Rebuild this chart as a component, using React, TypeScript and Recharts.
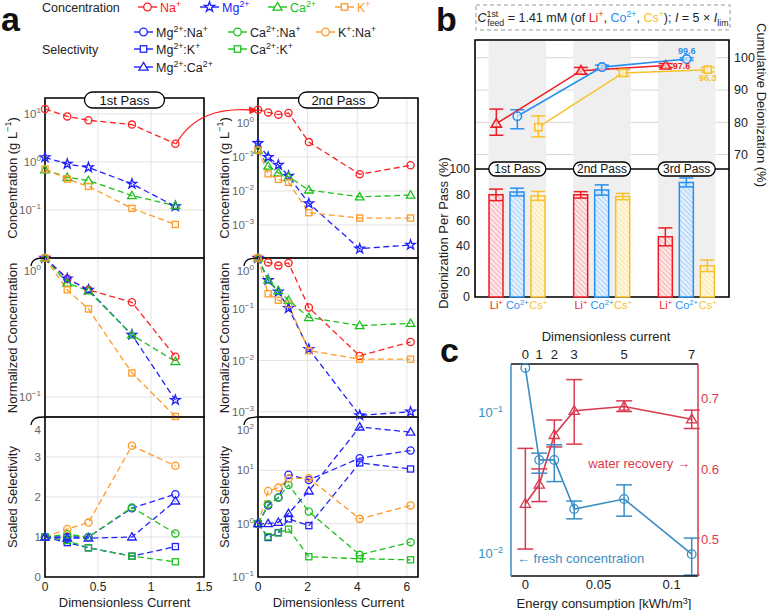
import React from 'react';
import {
  LineChart, Line, XAxis, YAxis, CartesianGrid, ReferenceArea, ReferenceLine, ReferenceDot,
  ComposedChart, Bar, Scatter, ErrorBar,
} from 'recharts';

const FONT = "'Liberation Sans', Arial, Helvetica, sans-serif";
const INK = '#222';

// ---- panel a colours
const RED = '#ff2020';
const BLUE = '#2020ff';
const GREEN = '#1ec01e';
const ORANGE = '#ff9a26';

// ---- panel a data (dimensionless current)
const pass1X = [0, 0.21, 0.41, 0.82, 1.23];
const pass2X = [0, 0.41, 0.82, 1.23, 2.05, 4.1, 6.15];

// concentration, g/L
const c1Na = [12.7, 8.9, 7.4, 6.0, 2.4];
const c1Mg = [1.25, 0.91, 0.77, 0.35, 0.119];
const c1Ca = [0.69, 0.48, 0.41, 0.2, 0.123];
const c1K = [0.71, 0.44, 0.31, 0.108, 0.05];
const c2Na = [2.47, 2.05, 1.76, 1.98, 0.274, 0.031, 0.057];
const c2Mg = [0.256, 0.099, 0.058, 0.0276, 0.0043, 0.0002, 0.00026];
const c2Ca = [0.16, 0.054, 0.034, 0.026, 0.0107, 0.0067, 0.0076];
const c2K = [0.16, 0.032, 0.022, 0.018, 0.0023, 0.0016, 0.0016];

// normalized concentration
const n1Na = [1, 0.71, 0.59, 0.48, 0.195];
const n1Mg = [1, 0.71, 0.59, 0.28, 0.095];
const n1Ca = [1, 0.66, 0.58, 0.28, 0.18];
const n1K = [1, 0.59, 0.43, 0.149, 0.0725];
const n2Na = [1, 0.82, 0.71, 0.8, 0.108, 0.0123, 0.023];
const n2Mg = [1, 0.37, 0.22, 0.105, 0.0167, 0.00085, 0.001];
const n2Ca = [1, 0.37, 0.23, 0.15, 0.069, 0.048, 0.053];
const n2K = [1, 0.2, 0.15, 0.125, 0.0156, 0.0106, 0.0106];

// scaled selectivity
const s1MgNa = [1, 1.0, 1.0, 1.72, 2.07];
const s1CaNa = [1, 1.07, 1.0, 1.74, 1.09];
const s1KNa = [1, 1.2, 1.36, 3.28, 2.78];
const s1MgK = [1, 0.86, 0.73, 0.52, 0.76];
const s1CaK = [1, 0.91, 0.73, 0.52, 0.38];
const s1MgCa = [1, 0.97, 0.97, 1.0, 1.9];
const s2MgNa = [1, 2.2, 3.1, 8.3, 6.6, 16.9, 23.5];
const s2CaNa = [1, 2.3, 3.07, 5.3, 1.69, 0.26, 0.45];
const s2KNa = [1, 4.1, 4.75, 7.0, 7.1, 1.23, 2.2];
const s2MgK = [1, 0.55, 0.68, 1.23, 0.92, 13.8, 10.6];
const s2CaK = [1, 0.57, 0.67, 0.79, 0.24, 0.22, 0.21];
const s2MgCa = [1, 1.0, 1.06, 1.55, 4.1, 65, 52];

// ---- panel b data
const LI = '#ee1c25';
const CO = '#2a8ff0';
const CS = '#f8c12c';
const passNames = ['1st Pass', '2nd Pass', '3rd Pass'];
const liPer = [79.8, 79.8, 47];
const liPerErr = [4.5, 2.5, 7];
const coPer = [82, 83.6, 89.5];
const coPerErr = [3, 4, 3.5];
const csPer = [79, 78.5, 24.4];
const csPerErr = [3.5, 2.5, 4.5];
const liCum = [79.6, 96.0, 97.6];
const liCumErr = [[3.6, 4.5], [1, 1], [0.6, 0.6]];
const coCum = [81.9, 97.1, 99.6];
const coCumErr = [[3.9, 2.0], [0.6, 0.6], [0.4, 0.4]];
const csCum = [78.5, 95.3, 96.3];
const csCumErr = [[3.0, 3.5], [1, 1], [0.7, 0.7]];

// ---- panel c data
const CBLUE = '#3a8dc4';
const CRED = '#d93a4e';
const dimless = [0, 1, 2, 3, 5, 7];
const energy = [0, 0.0095, 0.0198, 0.0334, 0.0675, 0.1137];
const fresh = [0.209, 0.0466, 0.0466, 0.0209, 0.0246, 0.01];
const freshLo = [0.209, 0.0375, 0.0327, 0.0178, 0.0186, 0.0071];
const freshHi = [0.209, 0.052, 0.0596, 0.0238, 0.031, 0.013];
const recovery = [0.551, 0.578, 0.648, 0.682, 0.688, 0.67];
const recLo = [0.487, 0.554, 0.631, 0.635, 0.681, 0.657];
const recHi = [0.629, 0.6, 0.669, 0.726, 0.696, 0.683];

function Marker({ shape, cx, cy, color, r = 3.6, sw = 1.3, fill = 'none' }: any) {
  if (cx == null || cy == null || isNaN(cx) || isNaN(cy)) return null;
  const st = { stroke: color, strokeWidth: sw, fill };
  if (shape === 'square') {
    const s = r * 0.85;
    return <rect x={cx - s} y={cy - s} width={2 * s} height={2 * s} {...st} />;
  }
  if (shape === 'tri') {
    const h = r * 1.2;
    return <polygon points={`${cx},${cy - h} ${cx + h},${cy + h * 0.7} ${cx - h},${cy + h * 0.7}`} {...st} />;
  }
  if (shape === 'star') {
    const pts: string[] = [];
    for (let k = 0; k < 10; k++) {
      const a = ((-90 + k * 36) * Math.PI) / 180;
      const rr = k % 2 ? r * 0.55 : r * 1.4;
      pts.push(`${cx + rr * Math.cos(a)},${cy + rr * Math.sin(a)}`);
    }
    return <polygon points={pts.join(' ')} {...st} />;
  }
  return <circle cx={cx} cy={cy} r={r} {...st} />;
}

const dotOf = (shape: string, color: string, r = 3.6) => (p: any) => (
  <Marker key={`d${p.index}`} shape={shape} cx={p.cx} cy={p.cy} color={color} r={r} />
);

function Rich({ x, y, parts, size = 12, fill = INK, anchor = 'start', weight }: any) {
  let shift = 0;
  return (
    <text x={x} y={y} fontSize={size} fill={fill} textAnchor={anchor} fontFamily={FONT} fontWeight={weight}>
      {parts.map((p: any, i: number) => {
        const target = p.sup ? -size * 0.4 : p.sub ? size * 0.28 : 0;
        const dy = target - shift;
        shift = target;
        return (
          <tspan key={i} dy={dy} dx={p.dx} fontSize={p.sup || p.sub ? size * 0.7 : size}
            fill={p.color} fontStyle={p.italic ? 'italic' : undefined}>{p.t}</tspan>
        );
      })}
    </text>
  );
}

function YTick({ x, y, payload, log, top, fill = INK, size = 11.5 }: any) {
  const v = payload.value;
  const dy = top != null && Math.abs(v - top) < 1e-9 ? 13 : 0;
  if (log) {
    const e = Math.round(Math.log10(v));
    return (
      <text x={x} y={y + dy} dy={4} textAnchor="end" fontSize={size} fill={fill} fontFamily={FONT}>
        10<tspan dy={-5} fontSize={size * 0.7}>{e < 0 ? `−${-e}` : `${e}`}</tspan>
      </text>
    );
  }
  return (
    <text x={x} y={y + dy} dy={4} textAnchor="end" fontSize={size} fill={fill} fontFamily={FONT}>{v}</text>
  );
}

function APlot({ left, top, w, h, xs, xDomain, xTicks, series, log, yDomain, yTicks, showX, shiftTop }: any) {
  const ML = 45, MT = 10, MR = 12, XH = 40;
  const data = xs.map((x: number, i: number) => {
    const row: any = { x };
    series.forEach((s: any) => { row[s.key] = s.values[i]; });
    return row;
  });
  return (
    <div style={{ position: 'absolute', left: left - ML, top: top - MT }}>
      <LineChart width={ML + w + MR} height={MT + h + (showX ? XH : 10)} data={data}
        margin={{ top: MT, right: MR, bottom: showX ? 0 : 10, left: 0 }}>
        <CartesianGrid stroke="#e3e3e3" />
        <XAxis dataKey="x" type="number" domain={xDomain} ticks={xTicks} hide={!showX} height={XH}
          axisLine={false} tickLine={false} tickSize={0} tickMargin={5} interval={0}
          tick={{ fontSize: 12, fill: INK, fontFamily: FONT }} />
        <YAxis type="number" scale={log ? 'log' : 'linear'} domain={yDomain} ticks={yTicks} width={ML}
          axisLine={false} tickLine={false} tickSize={0} tickMargin={4} interval={0}
          tick={<YTick log={log} top={shiftTop ? yDomain[1] : null} />} />
        <ReferenceArea x1={xDomain[0]} x2={xDomain[1]} y1={yDomain[0]} y2={yDomain[1]}
          fill="none" stroke="#000" strokeWidth={1.6} />
        {series.map((s: any) => (
          <Line key={s.key} dataKey={s.key} type="linear" stroke={s.color} strokeWidth={1.3}
            strokeDasharray="6 3.5" dot={dotOf(s.shape, s.color)} activeDot={false}
            isAnimationActive={false} />
        ))}
      </LineChart>
    </div>
  );
}

const conc1 = [
  { key: 'na', values: c1Na, color: RED, shape: 'circle' },
  { key: 'mg', values: c1Mg, color: BLUE, shape: 'star' },
  { key: 'ca', values: c1Ca, color: GREEN, shape: 'tri' },
  { key: 'k', values: c1K, color: ORANGE, shape: 'square' },
];
const conc2 = [
  { key: 'na', values: c2Na, color: RED, shape: 'circle' },
  { key: 'mg', values: c2Mg, color: BLUE, shape: 'star' },
  { key: 'ca', values: c2Ca, color: GREEN, shape: 'tri' },
  { key: 'k', values: c2K, color: ORANGE, shape: 'square' },
];
const norm1 = [
  { key: 'na', values: n1Na, color: RED, shape: 'circle' },
  { key: 'mg', values: n1Mg, color: BLUE, shape: 'star' },
  { key: 'ca', values: n1Ca, color: GREEN, shape: 'tri' },
  { key: 'k', values: n1K, color: ORANGE, shape: 'square' },
];
const norm2 = [
  { key: 'na', values: n2Na, color: RED, shape: 'circle' },
  { key: 'mg', values: n2Mg, color: BLUE, shape: 'star' },
  { key: 'ca', values: n2Ca, color: GREEN, shape: 'tri' },
  { key: 'k', values: n2K, color: ORANGE, shape: 'square' },
];
const sel1 = [
  { key: 'mgna', values: s1MgNa, color: BLUE, shape: 'circle' },
  { key: 'cana', values: s1CaNa, color: GREEN, shape: 'circle' },
  { key: 'kna', values: s1KNa, color: ORANGE, shape: 'circle' },
  { key: 'mgk', values: s1MgK, color: BLUE, shape: 'square' },
  { key: 'cak', values: s1CaK, color: GREEN, shape: 'square' },
  { key: 'mgca', values: s1MgCa, color: BLUE, shape: 'tri' },
];
const sel2 = [
  { key: 'mgna', values: s2MgNa, color: BLUE, shape: 'circle' },
  { key: 'cana', values: s2CaNa, color: GREEN, shape: 'circle' },
  { key: 'kna', values: s2KNa, color: ORANGE, shape: 'circle' },
  { key: 'mgk', values: s2MgK, color: BLUE, shape: 'square' },
  { key: 'cak', values: s2CaK, color: GREEN, shape: 'square' },
  { key: 'mgca', values: s2MgCa, color: BLUE, shape: 'tri' },
];

const ions = [
  { key: 'li', parts: [{ t: 'Li' }, { t: '+', sup: true }], color: LI, tint: '#fde6e7', hatch: '#f59a9e', shape: 'tri' },
  { key: 'co', parts: [{ t: 'Co' }, { t: '2+', sup: true }], color: CO, tint: '#e2effd', hatch: '#93c3f5', shape: 'circle' },
  { key: 'cs', parts: [{ t: 'Cs' }, { t: '+', sup: true }], color: CS, tint: '#fef6dd', hatch: '#f8dd8a', shape: 'square' },
];

function IonTick({ x, y }: any) {
  return (
    <g>
      {ions.map((ion, k) => (
        <Rich key={ion.key} x={x + (k - 1) * 21} y={y + 9} parts={ion.parts} fill={ion.color} size={11} anchor="middle" />
      ))}
    </g>
  );
}

function PassTag({ cx, cy, text, w, h, size }: any) {
  return (
    <g>
      <rect x={cx - w / 2} y={cy - h / 2} width={w} height={h} rx={h / 2} fill="#fff" stroke="#000" strokeWidth={1.3} />
      <text x={cx} y={cy} dy={size * 0.36} textAnchor="middle" fontSize={size} fontFamily={FONT} fill="#111">{text}</text>
    </g>
  );
}

function PanelB() {
  const yTop = 200.8;
  const data = passNames.map((p, i) => ({
    pass: p,
    li: liPer[i], liErr: liPerErr[i],
    co: coPer[i], coErr: coPerErr[i],
    cs: csPer[i], csErr: csPerErr[i],
  }));
  const off = 21 / (254 / 3);
  const cum = (vals: number[], errs: number[][], o: number) =>
    vals.map((v, i) => ({ x: i + 0.5 + o, y: v, err: errs[i] }));
  const cumSeries = [
    { ion: ions[0], pts: cum(liCum, liCumErr, -off) },
    { ion: ions[1], pts: cum(coCum, coCumErr, 0) },
    { ion: ions[2], pts: cum(csCum, csCumErr, off) },
  ];
  const tickStyle = { fontSize: 12.5, fill: INK, fontFamily: FONT };
  return (
    <div style={{ position: 'absolute', left: 435, top: 35 }}>
      <ComposedChart width={332} height={282} data={data} margin={{ top: 5, right: 0, bottom: 0, left: 0 }} barGap={7}>
        <defs>
          {ions.map((ion) => (
            <pattern key={ion.key} id={`h${ion.key}`} patternUnits="userSpaceOnUse" width={3.5} height={3.5}
              patternTransform="rotate(-45)">
              <rect width={3.5} height={3.5} fill={ion.tint} />
              <line x1={0} y1={0} x2={0} y2={3.5} stroke={ion.hatch} strokeWidth={1.3} />
            </pattern>
          ))}
        </defs>
        <XAxis xAxisId="cat" dataKey="pass" type="category" height={20} axisLine={false} tickLine={false}
          tickSize={0} tickMargin={3} interval={0} tick={<IonTick />} />
        <XAxis xAxisId="num" dataKey="x" type="number" domain={[0, 3]} hide />
        <YAxis yAxisId="left" type="number" domain={[0, yTop]} ticks={[0, 20, 40, 60, 80, 100]} width={40}
          axisLine={false} tickLine={false} tickSize={0} tickMargin={5} interval={0} tick={tickStyle} />
        <YAxis yAxisId="right" orientation="right" dataKey="y" type="number" domain={[25.9, 105.5]}
          ticks={[70, 80, 90, 100]} width={38} axisLine={false} tickLine={false} tickSize={0} tickMargin={5}
          interval={0} tick={tickStyle} />
        {passNames.map((p, i) => (
          <ReferenceArea key={p} xAxisId="num" yAxisId="left" x1={i + 0.16} x2={i + 0.84} y1={0} y2={yTop}
            fill="#efefef" fillOpacity={1} stroke="none" />
        ))}
        <CartesianGrid xAxisId="num" yAxisId="right" vertical={false} stroke="#d6d6d6" />
        {ions.map((ion) => (
          <Bar key={ion.key} xAxisId="cat" yAxisId="left" dataKey={ion.key} barSize={14} fill={`url(#h${ion.key})`}
            stroke={ion.color} strokeWidth={1.5} isAnimationActive={false}>
            <ErrorBar dataKey={`${ion.key}Err`} width={7} stroke={ion.color} strokeWidth={1.5} direction="y" />
          </Bar>
        ))}
        <ReferenceLine xAxisId="num" yAxisId="left" y={100} stroke="#000" strokeWidth={1.5} />
        <ReferenceArea xAxisId="num" yAxisId="left" x1={0} x2={3} y1={0} y2={yTop} fill="none" stroke="#000" strokeWidth={1.6} />
        {cumSeries.map(({ ion, pts }) => (
          <Scatter key={ion.key} xAxisId="num" yAxisId="right" data={pts} line={{ stroke: ion.color, strokeWidth: 1.6 }}
            lineType="joint" isAnimationActive={false}
            shape={(p: any) => <Marker shape={ion.shape} cx={p.cx} cy={p.cy} color={ion.color} r={4.2} sw={1.6} fill="rgba(255,255,255,0.6)" />}>
            <ErrorBar dataKey="err" direction="y" width={7} stroke={ion.color} strokeWidth={1.5} />
          </Scatter>
        ))}
        {passNames.map((p, i) => (
          <ReferenceDot key={p} xAxisId="num" yAxisId="left" x={i + 0.5} y={100} r={0}
            shape={(s: any) => <PassTag cx={s.cx} cy={s.cy} text={p} w={57} h={14} size={12} />} />
        ))}
        <ReferenceDot xAxisId="num" yAxisId="right" x={cumSeries[1].pts[2].x} y={coCum[2]} r={0} fill="none" stroke="none"
          label={{ value: coCum[2].toFixed(1), position: 'top', offset: 5, fill: CO, fontSize: 9, fontWeight: 700, fontFamily: FONT }} />
        <ReferenceDot xAxisId="num" yAxisId="right" x={cumSeries[0].pts[2].x} y={liCum[2]} r={0} fill="none" stroke="none"
          label={{ value: liCum[2].toFixed(1), position: 'right', offset: 7, fill: LI, fontSize: 9, fontWeight: 700, fontFamily: FONT }} />
        <ReferenceDot xAxisId="num" yAxisId="right" x={cumSeries[2].pts[2].x} y={csCum[2]} r={0} fill="none" stroke="none"
          label={{ value: csCum[2].toFixed(1), position: 'bottom', offset: 5, fill: CS, fontSize: 9, fontWeight: 700, fontFamily: FONT }} />
      </ComposedChart>
    </div>
  );
}

function PanelC() {
  const data = energy.map((e, i) => ({
    e,
    fresh: fresh[i],
    fErr: freshHi[i] > freshLo[i] ? [fresh[i] - freshLo[i], freshHi[i] - fresh[i]] : null,
    rec: recovery[i], rErr: [recovery[i] - recLo[i], recHi[i] - recovery[i]],
  }));
  const xDom = [-0.0098, 0.118];
  const black = { stroke: '#111', strokeWidth: 1.5 };
  return (
    <div style={{ position: 'absolute', left: 470, top: 322 }}>
      <ComposedChart width={270} height={288} data={data} margin={{ top: 0, right: 0, bottom: 0, left: 0 }}>
        <XAxis xAxisId="bottom" dataKey="e" type="number" domain={xDom} ticks={[0, 0.05, 0.1]} height={34}
          axisLine={black} tickLine={false} tickSize={0} tickMargin={4} interval={0}
          tick={{ fontSize: 13, fill: INK, fontFamily: FONT }} />
        <XAxis xAxisId="top" orientation="top" dataKey="e" type="number" domain={xDom} ticks={energy} height={42}
          axisLine={black} tickLine={false} tickSize={0} tickMargin={5} interval={0}
          tickFormatter={(v: number) => String(dimless[energy.indexOf(v)])}
          tick={{ fontSize: 13, fill: INK, fontFamily: FONT }} />
        <YAxis yAxisId="left" type="number" scale="log" domain={[0.007, 0.223]} ticks={[0.01, 0.1]} width={41}
          axisLine={{ stroke: CBLUE, strokeWidth: 1.5 }} tickLine={false} tickSize={0} tickMargin={8} interval={0}
          tick={<YTick log fill={CBLUE} size={13} />} />
        <YAxis yAxisId="right" orientation="right" type="number" domain={[0.449, 0.748]} ticks={[0.5, 0.6, 0.7]} width={42}
          axisLine={{ stroke: CRED, strokeWidth: 1.5 }} tickLine={false} tickSize={0} tickMargin={3} interval={0}
          tick={{ fontSize: 13, fill: CRED, fontFamily: FONT }} />
        <Line xAxisId="bottom" yAxisId="right" dataKey="rec" stroke={CRED} strokeWidth={1.6}
          dot={dotOf('tri', CRED, 4.3)} activeDot={false} isAnimationActive={false}>
          <ErrorBar dataKey="rErr" direction="y" width={8} stroke={CRED} strokeWidth={1.5} />
        </Line>
        <Line xAxisId="bottom" yAxisId="left" dataKey="fresh" stroke={CBLUE} strokeWidth={1.6}
          dot={dotOf('circle', CBLUE, 4.3)} activeDot={false} isAnimationActive={false}>
          <ErrorBar dataKey="fErr" direction="y" width={8} stroke={CBLUE} strokeWidth={1.5} />
        </Line>
      </ComposedChart>
    </div>
  );
}

const concLegend = [
  { parts: [{ t: 'Na' }, { t: '+', sup: true }], color: RED, shape: 'circle', x: 138 },
  { parts: [{ t: 'Mg' }, { t: '2+', sup: true }], color: BLUE, shape: 'star', x: 200 },
  { parts: [{ t: 'Ca' }, { t: '2+', sup: true }], color: GREEN, shape: 'tri', x: 268 },
  { parts: [{ t: 'K' }, { t: '+', sup: true }], color: ORANGE, shape: 'square', x: 335 },
];
const selLegend = [
  { parts: [{ t: 'Mg' }, { t: '2+', sup: true }, { t: ':Na' }, { t: '+', sup: true }], color: BLUE, shape: 'circle', x: 134, y: 32 },
  { parts: [{ t: 'Ca' }, { t: '2+', sup: true }, { t: ':Na' }, { t: '+', sup: true }], color: GREEN, shape: 'circle', x: 228, y: 32 },
  { parts: [{ t: 'K' }, { t: '+', sup: true }, { t: ':Na' }, { t: '+', sup: true }], color: ORANGE, shape: 'circle', x: 316, y: 32 },
  { parts: [{ t: 'Mg' }, { t: '2+', sup: true }, { t: ':K' }, { t: '+', sup: true }], color: BLUE, shape: 'square', x: 134, y: 49 },
  { parts: [{ t: 'Ca' }, { t: '2+', sup: true }, { t: ':K' }, { t: '+', sup: true }], color: GREEN, shape: 'square', x: 228, y: 49 },
  { parts: [{ t: 'Mg' }, { t: '2+', sup: true }, { t: ':Ca' }, { t: '2+', sup: true }], color: BLUE, shape: 'tri', x: 134, y: 67 },
];

function LegendItem({ x, y, color, shape, parts, textColor }: any) {
  return (
    <g>
      <line x1={x} y1={y} x2={x + 19} y2={y} stroke={color} strokeWidth={1.4} />
      <Marker shape={shape} cx={x + 9.5} cy={y} color={color} r={3.8} fill="#fff" />
      <Rich x={x + 22} y={y + 4.5} parts={parts} fill={textColor} size={12.5} />
    </g>
  );
}

function Curl({ x, y }: any) {
  return <path d={`M ${x - 14} ${y + 8} C ${x - 13} ${y + 1}, ${x - 8} ${y}, ${x} ${y}`} fill="none" stroke="#000" strokeWidth={1.3} />;
}

function Overlay() {
  const t13 = { fontSize: 13, fontFamily: FONT, fill: INK };
  return (
    <svg width={767} height={610} style={{ position: 'absolute', left: 0, top: 0, pointerEvents: 'none' }}>
      <g fontFamily={FONT} fontWeight="bold" fontSize={34} fill="#111">
        <text x={1} y={31}>a</text>
        <text x={436} y={31}>b</text>
        <text x={440} y={362}>c</text>
      </g>
      {/* legend of panel a */}
      <text x={42} y={11.5} {...t13} fontSize={12.5}>Concentration</text>
      {concLegend.map((l, i) => <LegendItem key={i} {...l} y={7} textColor={l.color} />)}
      <text x={42} y={53.5} {...t13} fontSize={12.5}>Selectivity</text>
      {selLegend.map((l, i) => <LegendItem key={i} {...l} textColor={INK} />)}

      <PassTag cx={124.5} cy={100} text="1st Pass" w={80} h={16} size={13} />
      <PassTag cx={338.5} cy={100} text="2nd Pass" w={80} h={16} size={13} />

      {[12, 224].map((x) => (
        <g key={x}>
          <g transform={`translate(${x},178) rotate(-90)`}>
            <Rich x={0} y={4.5} anchor="middle" size={13} parts={[{ t: 'Concentration (g L' }, { t: '−1', sup: true }, { t: ')' }]} />
          </g>
          <text transform={`translate(${x},338) rotate(-90)`} y={4.5} textAnchor="middle" {...t13}>Normalized Concentration</text>
          <text transform={`translate(${x},497) rotate(-90)`} y={4.5} textAnchor="middle" {...t13}>Scaled Selectivity</text>
        </g>
      ))}
      <text x={124.5} y={607} textAnchor="middle" {...t13}>Dimensionless Current</text>
      <text x={338.5} y={607} textAnchor="middle" {...t13}>Dimensionless Current</text>

      <Curl x={45} y={258} /><Curl x={258} y={258} />
      <Curl x={45} y={417} /><Curl x={258} y={417} />

      <path d="M 176 144 C 192 116, 218 108, 251 110" fill="none" stroke={RED} strokeWidth={1.3} />
      <polygon points="258,110.3 249,106.3 249.5,114.3" fill={RED} />

      {/* panel b */}
      <rect x={476} y={5} width={254} height={25} fill="none" stroke="#999" strokeDasharray="4 3" />
      <Rich x={603} y={22} anchor="middle" size={12.5} parts={[
        { t: 'C', italic: true }, { t: '1st', sup: true }, { t: 'feed', sub: true, dx: -11 },
        { t: ' = 1.41 mM (of ' }, { t: 'Li', color: LI }, { t: '+', sup: true, color: LI }, { t: ', ' },
        { t: 'Co', color: CO }, { t: '2+', sup: true, color: CO }, { t: ', ' },
        { t: 'Cs', color: CS }, { t: '+', sup: true, color: CS }, { t: '); ' },
        { t: 'I', italic: true }, { t: ' = 5 × ' }, { t: 'I', italic: true }, { t: 'lim', sub: true },
      ]} />
      <text transform="translate(443,233) rotate(-90)" y={4.5} textAnchor="middle" {...t13}>Deionization Per Pass (%)</text>
      <text transform="translate(761,105) rotate(90)" y={4.5} textAnchor="middle" {...t13}>Cumulative Deionization (%)</text>

      {/* panel c */}
      <text x={606} y={341} textAnchor="middle" {...t13}>Dimensionless current</text>
      <text x={604} y={608} textAnchor="middle" {...t13}>Energy consumption [kWh/m<tspan dy={-4} fontSize={9}>3</tspan><tspan dy={4}>]</tspan></text>
      <text x={690} y={468} textAnchor="end" {...t13} fill={CRED}>water recovery →</text>
      <text x={517} y={563} {...t13} fill={CBLUE}>← fresh concentration</text>
    </svg>
  );
}

export default function App() {
  return (
    <div style={{ position: 'absolute', left: 0, top: 0, width: 767, height: 610, background: '#fff', fontFamily: FONT }}>
      <APlot left={45} top={98} w={159} h={160} xs={pass1X} xDomain={[0, 1.5]} xTicks={[0, 0.5, 1, 1.5]}
        series={conc1} log yDomain={[0.01, 21.5]} yTicks={[0.1, 1, 10]} />
      <APlot left={258} top={98} w={160} h={160} xs={pass2X} xDomain={[0, 6.45]} xTicks={[0, 2, 4, 6]}
        series={conc2} log yDomain={[1.07e-4, 5.43]} yTicks={[0.001, 0.01, 0.1, 1]} />
      <APlot left={45} top={258} w={159} h={159} xs={pass1X} xDomain={[0, 1.5]} xTicks={[0, 0.5, 1, 1.5]}
        series={norm1} log yDomain={[0.0718, 1]} yTicks={[0.1, 1]} shiftTop />
      <APlot left={258} top={258} w={160} h={159} xs={pass2X} xDomain={[0, 6.45]} xTicks={[0, 2, 4, 6]}
        series={norm2} log yDomain={[0.00079, 1]} yTicks={[0.001, 0.01, 0.1, 1]} shiftTop />
      <APlot left={45} top={417} w={159} h={160} xs={pass1X} xDomain={[0, 1.5]} xTicks={[0, 0.5, 1, 1.5]}
        series={sel1} yDomain={[0, 4]} yTicks={[0, 1, 2, 3, 4]} shiftTop showX />
      <APlot left={258} top={417} w={160} h={160} xs={pass2X} xDomain={[0, 6.45]} xTicks={[0, 2, 4, 6]}
        series={sel2} log yDomain={[0.1, 100]} yTicks={[0.1, 1, 10, 100]} shiftTop showX />
      <PanelB />
      <PanelC />
      <Overlay />
    </div>
  );
}
